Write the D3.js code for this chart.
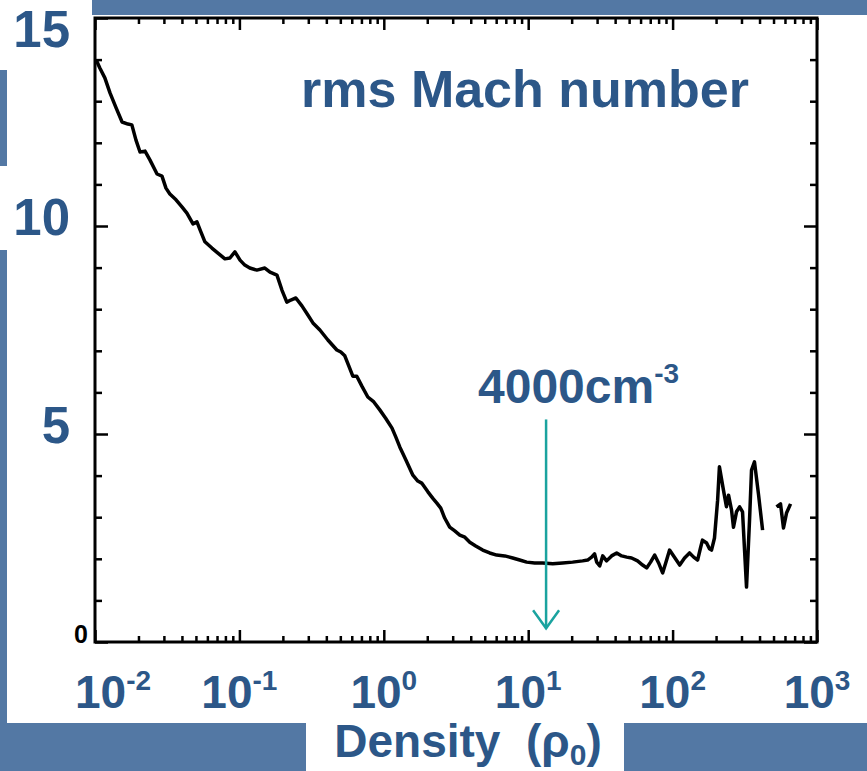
<!DOCTYPE html>
<html lang="en">
<head>
<meta charset="utf-8">
<title>rms Mach number vs density</title>
<style>
html,body{margin:0;padding:0;background:#5378a4;overflow:hidden;}
svg{display:block;font-family:"Liberation Sans",Arial,Helvetica,sans-serif;}
.lbl{fill:#2c5788;font-weight:bold;}
.tick line{stroke:#000;stroke-width:2.5;}
</style>
</head>
<body>
<svg id="chart" width="867" height="771"></svg>
<script src="https://cdn.jsdelivr.net/npm/d3@7"></script>
<script>
/* ---------- data ---------- */
const density = [0.0102,0.0108,0.0117,0.0127,0.0140,0.0154,0.0169,0.0180,0.0192,0.0205,
  0.0222,0.0240,0.0269,0.0291,0.0310,0.0330,0.0364,0.0400,0.0433,0.0477,
  0.0508,0.0541,0.0577,0.0645,0.0710,0.0794,0.0860,0.0931,0.101,0.109,
  0.118,0.132,0.150,0.163,0.182,0.197,0.213,0.227,0.246,0.271,
  0.298,0.323,0.361,0.410,0.473,0.504,0.537,0.573,0.610,0.650,
  0.705,0.775,0.853,0.938,1.03,1.14,1.21,1.29,1.42,1.59,
  1.72,1.83,2.02,2.18,2.33,2.48,2.64,2.86,3.10,3.36,
  3.64,3.94,4.33,4.84,5.41,6.05,6.88,7.81,8.73,9.76,
  11.1,12.6,14.8,17.3,20.3,23.8,25.8,27.5,28.8,29.8,
  31.3,32.8,34.9,37.8,41.0,44.4,48.1,52.0,57.2,62.0,
  66.1,70.4,75.1,80.0,85.3,90.9,95.3,103,112,121,
  131,140,149,156,161,172,180,186,195,205,
  211,225,236,244,256,264,277,291,305,315,
  325,341,352,369,394,420];
const machRms = [13.99,13.80,13.56,13.20,12.84,12.50,12.45,12.43,12.07,11.78,
  11.80,11.59,11.25,11.20,10.91,10.77,10.63,10.46,10.31,10.05,
  10.10,9.86,9.62,9.47,9.35,9.21,9.23,9.38,9.18,9.06,
  8.99,8.94,8.99,8.89,8.82,8.46,8.17,8.22,8.27,8.08,
  7.86,7.67,7.50,7.26,7.02,6.97,6.88,6.63,6.39,6.39,
  6.15,5.89,5.77,5.58,5.38,5.14,4.93,4.69,4.38,4.01,
  3.87,3.82,3.61,3.46,3.34,3.22,2.98,2.76,2.67,2.57,
  2.52,2.40,2.31,2.21,2.14,2.09,2.07,2.02,1.97,1.92,
  1.90,1.90,1.88,1.90,1.92,1.95,1.97,2.04,2.12,1.92,
  1.83,2.07,1.95,2.07,2.14,2.07,2.04,2.02,1.95,1.85,
  1.78,1.92,2.09,1.90,1.66,1.97,2.21,2.04,1.85,2.02,
  2.14,2.04,1.97,2.26,2.45,2.38,2.24,2.21,2.50,3.41,
  4.21,3.65,3.25,3.53,3.17,2.76,3.13,3.25,3.13,2.21,
  1.32,2.93,4.13,4.33,3.53,2.69];
// separate short piece at the high-density end
const tailDensity = [524,559,586,615,656];
const tailMach = [3.25,3.32,2.74,3.10,3.32];

const xTickExp = [-2,-1,0,1,2,3];
const yTickLabels = [15,10,5];
const markDensity = 13.3;      // 4000 cm^-3 in units of rho0
const markSpan = [5.35,0.33];  // arrow from / to (Mach axis)

/* ---------- canvas ---------- */
const W = 867, H = 771;
const svg = d3.select('#chart');
const blue = '#5378a4', ink = '#2c5788', teal = '#1aa39f';

svg.append('rect').attr('width',W).attr('height',H).attr('fill',blue);
// white slide areas behind the picture and the labels
[[7,15,860,708],[0,0,92,70],[0,166,7,84],[306,723,318,48]].forEach(r=>{
  svg.append('rect').attr('x',r[0]).attr('y',r[1])
    .attr('width',r[2]).attr('height',r[3]).attr('fill','#fff');
});

/* ---------- scales ---------- */
const x = d3.scaleLog().domain([0.01,1000]).range([95,817]);
const y = d3.scaleLinear().domain([0,15]).range([642,18]);

const major = x.ticks().filter(v=>Math.abs(Math.log10(v)-Math.round(Math.log10(v)))<1e-9);
const minor = x.ticks().filter(v=>!major.includes(v));
const yMajor = [0,5,10,15], yMinor = d3.range(1,15).filter(v=>v%5);

function ax(gen, tx, ty, vals, size){
  svg.append('g').attr('transform',`translate(${tx},${ty})`)
    .call(gen.tickValues(vals).tickSize(size).tickFormat(''))
    .call(g=>g.select('.domain').remove());
}
ax(d3.axisTop(x),0,642,major,12);   ax(d3.axisTop(x),0,642,minor,6);
ax(d3.axisBottom(x),0,18,major,12); ax(d3.axisBottom(x),0,18,minor,6);
ax(d3.axisRight(y),95,0,yMajor,13); ax(d3.axisRight(y),95,0,yMinor,7);
ax(d3.axisLeft(y),817,0,yMajor,13); ax(d3.axisLeft(y),817,0,yMinor,7);

svg.append('rect').attr('x',x(0.01)).attr('y',y(15))
  .attr('width',x(1000)-x(0.01)).attr('height',y(0)-y(15))
  .attr('fill','none').attr('stroke','#000').attr('stroke-width',3);

/* ---------- curve ---------- */
const line = d3.line().x(d=>x(d[0])).y(d=>y(d[1]));
[[density,machRms],[tailDensity,tailMach]].forEach(([xs,ys])=>{
  svg.append('path').datum(xs.map((v,i)=>[v,ys[i]]))
    .attr('d',line).attr('fill','none').attr('stroke','#000')
    .attr('stroke-width',3.5).attr('stroke-linejoin','round');
});

/* ---------- axis labels ---------- */
xTickExp.forEach(e=>{
  const t = svg.append('text').attr('class','lbl')
    .attr('x',Math.max(x(Math.pow(10,e)),113)).attr('y',708)
    .attr('text-anchor','middle').attr('font-size',46);
  t.append('tspan').text('10');
  t.append('tspan').attr('dy',-18).attr('font-size',28).text(String(e));
});
yTickLabels.forEach(v=>{
  svg.append('text').attr('class','lbl')
    .attr('x',70).attr('y',Math.max(y(v)+9,47))
    .attr('text-anchor','end').attr('font-size',51).text(v);
});
svg.append('text').attr('x',88).attr('y',y(0)+1).attr('text-anchor','end')
  .attr('font-size',25).attr('font-weight','bold').attr('fill','#000').text('0');

const xl = svg.append('text').attr('class','lbl').attr('x',468).attr('y',757)
  .attr('text-anchor','middle').attr('font-size',46);
xl.append('tspan').text('Density\u00a0\u00a0(\u03c1');
xl.append('tspan').attr('dy',8).attr('font-size',30).text('0');
xl.append('tspan').attr('dy',-8).text(')');

svg.append('text').attr('class','lbl').attr('x',525).attr('y',107)
  .attr('text-anchor','middle').attr('font-size',52).text('rms Mach number');

/* ---------- 4000 cm^-3 marker ---------- */
const ann = svg.append('text').attr('class','lbl').attr('x',478).attr('y',403)
  .attr('font-size',48);
ann.append('tspan').text('4000cm');
ann.append('tspan').attr('dy',-20).attr('font-size',28).text('-3');

const ax0 = x(markDensity), ay0 = y(markSpan[0]), ay1 = y(markSpan[1]);
svg.append('line').attr('x1',ax0).attr('x2',ax0).attr('y1',ay0).attr('y2',ay1)
  .attr('stroke',teal).attr('stroke-width',2.5);
svg.append('path').attr('d',`M${ax0-13},${ay1-18}L${ax0},${ay1}L${ax0+13},${ay1-18}`)
  .attr('fill','none').attr('stroke',teal).attr('stroke-width',2.5);
</script>
</body>
</html>
